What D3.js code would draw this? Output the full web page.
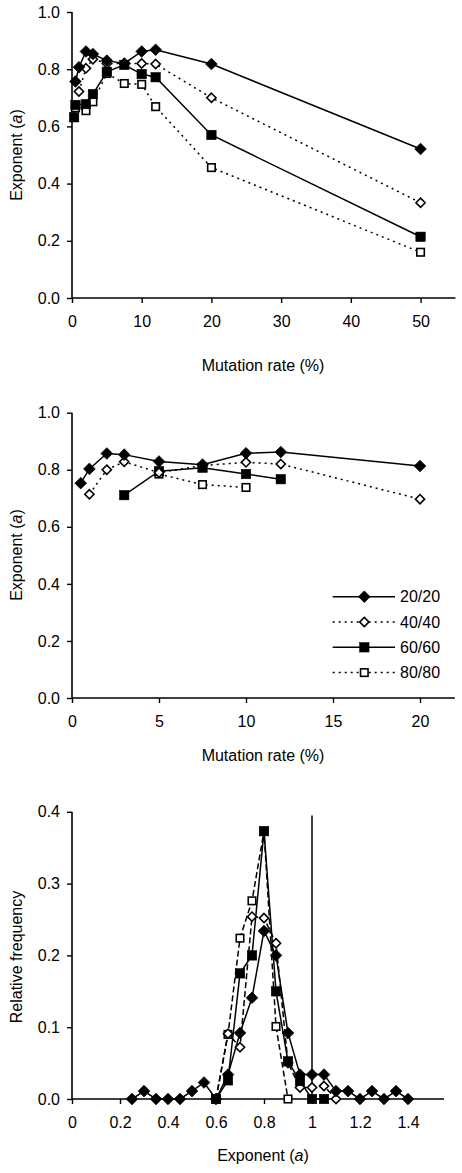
<!DOCTYPE html>
<html><head><meta charset="utf-8">
<script src="https://cdn.jsdelivr.net/npm/d3@7"></script>
<style>body{margin:0;background:#fff}svg{display:block}text{font-family:"Liberation Sans",Arial,sans-serif;fill:#000}</style>
</head><body>
<script>
// ---------- data ----------
const seriesNames = ["20/20","40/40","60/60","80/80"];
// Panel 1: mutation rate (%) vs exponent
const p1_x_2020 = [0.5,1,2,3,5,7.5,10,12,20,50];
const p1_y_2020 = [0.757,0.807,0.862,0.853,0.83,0.82,0.862,0.868,0.818,0.521];
const p1_x_4040 = [1,2,3,5,7.5,10,12,20,50];
const p1_y_4040 = [0.722,0.803,0.835,0.82,0.82,0.82,0.818,0.70,0.333];
const p1_x_6060 = [0.3,0.5,2,3,5,7.5,10,12,20,50];
const p1_y_6060 = [0.632,0.675,0.678,0.713,0.791,0.815,0.783,0.772,0.57,0.214];
const p1_x_8080 = [0.5,2,3,5,7.5,10,12,20,50];
const p1_y_8080 = [0.665,0.655,0.686,0.785,0.75,0.747,0.669,0.456,0.16];
const p1_xticks = [0,10,20,30,40,50];
const yticks12 = [0,0.2,0.4,0.6,0.8,1.0];
// Panel 2
const p2_x_2020 = [0.5,1,2,3,5,7.5,10,12,20];
const p2_y_2020 = [0.753,0.803,0.857,0.853,0.829,0.818,0.858,0.862,0.813];
const p2_x_4040 = [1,2,3,5,7.5,10,12,20];
const p2_y_4040 = [0.714,0.80,0.828,0.79,0.815,0.826,0.82,0.697];
const p2_x_6060 = [3,5,7.5,10,12];
const p2_y_6060 = [0.711,0.795,0.807,0.785,0.767];
const p2_x_8080 = [5,7.5,10];
const p2_y_8080 = [0.785,0.748,0.738];
const p2_xticks = [0,5,10,15,20];
// Panel 3: exponent histogram
const p3_x_2020 = [0.25,0.3,0.35,0.4,0.45,0.5,0.55,0.6,0.65,0.7,0.75,0.8,0.85,0.9,0.95,1.0,1.05,1.1,1.15,1.2,1.25,1.3,1.35,1.4];
const p3_y_2020 = [0,0.011,0,0,0,0.011,0.023,0,0.034,0.092,0.141,0.234,0.2,0.092,0.034,0.034,0.034,0.011,0.011,0,0.011,0,0.011,0];
const p3_x_4040 = [0.6,0.65,0.7,0.75,0.8,0.85,0.9,0.95,1.0,1.05,1.1];
const p3_y_4040 = [0,0.091,0.072,0.254,0.252,0.217,0.05,0.016,0.016,0.018,0];
const p3_x_6060 = [0.6,0.65,0.7,0.75,0.8,0.85,0.9,0.95,1.0,1.05];
const p3_y_6060 = [0,0.026,0.175,0.2,0.373,0.15,0.0525,0.025,0,0];
const p3_x_8080 = [0.6,0.65,0.7,0.75,0.8,0.85,0.9];
const p3_y_8080 = [0,0.09,0.224,0.276,0.373,0.101,0];
const p3_xticks = [0,0.2,0.4,0.6,0.8,1.0,1.2,1.4];
const p3_xtickLabels = ["0","0.2","0.4","0.6","0.8","1","1.2","1.4"];
const p3_yticks = [0,0.1,0.2,0.3,0.4];
const p3_refLine = {x:1.0, y0:0, y1:0.395};

// ---------- drawing ----------
const W=462,H=1173, FS=16;
const svg=d3.select("body").append("svg").attr("width",W).attr("height",H);
const zip=(xs,ys)=>xs.map((x,i)=>({x:x,y:ys[i]}));

const styles={
 "20/20":{marker:"diamond",fill:true,dash:null},
 "40/40":{marker:"diamond",fill:false,dash:"2,4"},
 "60/60":{marker:"square",fill:true,dash:null},
 "80/80":{marker:"square",fill:false,dash:"2,4"}
};

function marker(g,type,fill,cx,cy){
  if(type==="diamond"){
    const r=fill?5.8:4.6;
    g.append("path").attr("d",`M${cx},${cy-r}L${cx+r},${cy}L${cx},${cy+r}L${cx-r},${cy}Z`)
     .attr("fill",fill?"#000":"#fff").attr("stroke","#000").attr("stroke-width",fill?0.8:1.6);
  } else {
    const s=fill?9.5:7.5;
    g.append("rect").attr("x",cx-s/2).attr("y",cy-s/2).attr("width",s).attr("height",s)
     .attr("fill",fill?"#000":"#fff").attr("stroke","#000").attr("stroke-width",fill?0.5:1.6);
  }
}

function panel(cfg){
  const g=svg.append("g");
  const x=d3.scaleLinear().domain(cfg.xd).range(cfg.xr);
  const y=d3.scaleLinear().domain(cfg.yd).range(cfg.yr);
  const ax=g.append("g").attr("transform",`translate(0,${cfg.yr[0]})`)
    .call(d3.axisBottom(x).tickValues(cfg.xticks).tickSize(5).tickPadding(13)
      .tickFormat((d,i)=>cfg.xlabels?cfg.xlabels[i]:d3.format("d")(d)));
  const ay=g.append("g").attr("transform",`translate(${cfg.xr[0]},0)`)
    .call(d3.axisLeft(y).tickValues(cfg.yticks).tickSize(5).tickPadding(7).tickFormat(d3.format(".1f")));
  [ax,ay].forEach(a=>{
    a.select(".domain").attr("stroke-width",1.6).attr("stroke","#000");
    a.selectAll(".tick line").attr("stroke-width",1.4);
    a.selectAll("text").attr("font-size",FS).attr("font-family",'"Liberation Sans",Arial,sans-serif');
  });
  ax.select(".domain").attr("d",`M${cfg.xr[0]},0H${cfg.xr[1]}`);
  ay.select(".domain").attr("d",`M0,${cfg.yr[0]}V${cfg.yr[1]}`);
  const xl=g.append("text").attr("x",263).attr("y",cfg.xlabelY).attr("text-anchor","middle").attr("font-size",FS);
  if(cfg.italicX){xl.append("tspan").text("Exponent (");xl.append("tspan").attr("font-style","italic").text("a");xl.append("tspan").text(")");}
  else xl.text(cfg.xlabel);
  const yl=g.append("text").attr("transform",`translate(22,${cfg.ylabelC}) rotate(-90)`).attr("text-anchor","middle").attr("font-size",FS);
  if(cfg.italicY){yl.append("tspan").text("Exponent (");yl.append("tspan").attr("font-style","italic").text("a");yl.append("tspan").text(")");}
  else yl.text(cfg.ylabel);
  if(cfg.ref){
    g.append("line").attr("x1",x(cfg.ref.x)).attr("x2",x(cfg.ref.x)).attr("y1",y(cfg.ref.y0)).attr("y2",y(cfg.ref.y1))
     .attr("stroke","#000").attr("stroke-width",1.5);
  }
  const line=d3.line().x(d=>x(d.x)).y(d=>y(d.y));
  const order=cfg.order;
  order.forEach(name=>{
    const st=styles[name];
    g.append("path").datum(cfg.data[name]).attr("d",line).attr("fill","none").attr("stroke","#000")
     .attr("stroke-width",1.5).attr("stroke-dasharray",st.dash?(cfg.dash||st.dash):null);
  });
  order.forEach(name=>{
    const st=styles[name];
    cfg.data[name].forEach(d=>marker(g,st.marker,st.fill,x(d.x),y(d.y)));
  });
  return {g,x,y};
}

panel({xd:[0,55],xr:[72,455.4],yd:[0,1],yr:[298,12],xticks:p1_xticks,yticks:yticks12,
  xlabel:"Mutation rate (%)",xlabelY:371,italicY:true,ylabelC:155,
  order:["80/80","60/60","40/40","20/20"],
  data:{"20/20":zip(p1_x_2020,p1_y_2020),"40/40":zip(p1_x_4040,p1_y_4040),"60/60":zip(p1_x_6060,p1_y_6060),"80/80":zip(p1_x_8080,p1_y_8080)}});

const P2=panel({xd:[0,22],xr:[72,454.8],yd:[0,1],yr:[698,412.7],xticks:p2_xticks,yticks:yticks12,
  xlabel:"Mutation rate (%)",xlabelY:761,italicY:true,ylabelC:555,
  order:["80/80","60/60","40/40","20/20"],
  data:{"20/20":zip(p2_x_2020,p2_y_2020),"40/40":zip(p2_x_4040,p2_y_4040),"60/60":zip(p2_x_6060,p2_y_6060),"80/80":zip(p2_x_8080,p2_y_8080)}});

const lg=P2.g.append("g");
seriesNames.forEach((name,i)=>{
  const st=styles[name];
  const cy=596.7+i*25.3;
  lg.append("line").attr("x1",332.7).attr("x2",395).attr("y1",cy).attr("y2",cy).attr("stroke","#000")
    .attr("stroke-width",1.5).attr("stroke-dasharray",st.dash);
  marker(lg,st.marker,st.fill,364.3,cy);
  lg.append("text").attr("x",400).attr("y",cy+5.5).attr("font-size",FS).text(name);
});

panel({xd:[0,1.55],xr:[72,444],yd:[0,0.4],yr:[1099,811.8],xticks:p3_xticks,xlabels:p3_xtickLabels,yticks:p3_yticks,
  italicX:true,xlabelY:1161,ylabel:"Relative frequency",ylabelC:957,ref:p3_refLine,dash:"6,3",
  order:["80/80","40/40","60/60","20/20"],
  data:{"20/20":zip(p3_x_2020,p3_y_2020),"40/40":zip(p3_x_4040,p3_y_4040),"60/60":zip(p3_x_6060,p3_y_6060),"80/80":zip(p3_x_8080,p3_y_8080)}});
</script>
</body></html>
